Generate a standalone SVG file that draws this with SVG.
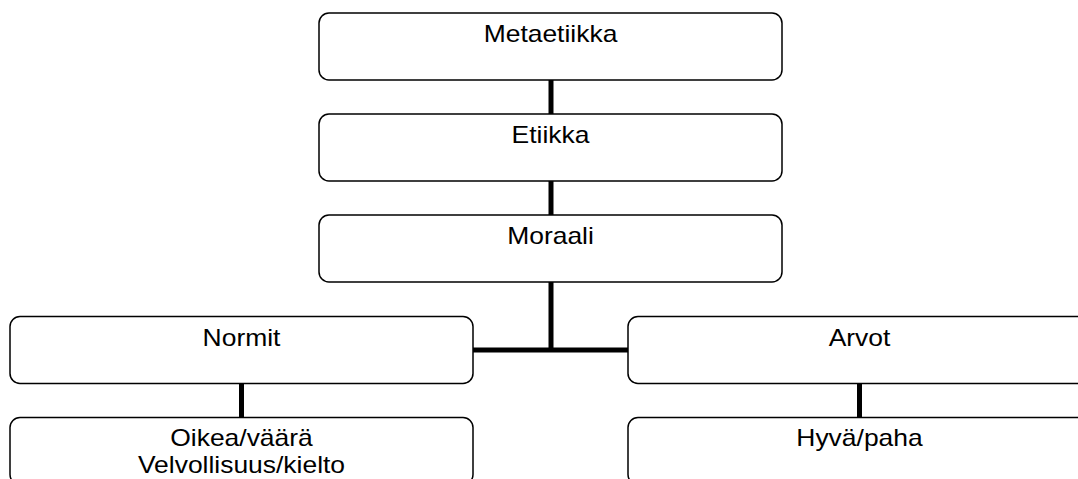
<svg xmlns="http://www.w3.org/2000/svg" width="1078" height="479" viewBox="0 0 1078 479">
<style>
.box{fill:#fff;stroke:#000;stroke-width:1.5}
.lbl{font-family:"Liberation Sans",Arial,sans-serif;font-size:23px;fill:#000;text-anchor:middle}
.con{stroke:#000;stroke-width:5;fill:none}
</style>
<rect width="1078" height="479" fill="#fff"/>
<g id="connectors">
<line class="con" x1="551" y1="80" x2="551" y2="114"/>
<line class="con" x1="551" y1="181" x2="551" y2="215"/>
<path class="con" d="M551 282 V350 M473 350 H628"/>
<line class="con" x1="241.5" y1="383" x2="241.5" y2="418"/>
<line class="con" x1="859.5" y1="383" x2="859.5" y2="418"/>
</g>
<g id="metaetiikka">
<rect class="box" x="319" y="13" width="463" height="67" rx="10"/>
<text class="lbl" transform="translate(550.5 42) scale(1.15 1)">Metaetiikka</text>
</g>
<g id="etiikka">
<rect class="box" x="319" y="114" width="463" height="67" rx="10"/>
<text class="lbl" transform="translate(550.5 143) scale(1.15 1)">Etiikka</text>
</g>
<g id="moraali">
<rect class="box" x="319" y="215" width="463" height="67" rx="10"/>
<text class="lbl" transform="translate(550.5 244) scale(1.15 1)">Moraali</text>
</g>
<g id="normit">
<rect class="box" x="10" y="316.5" width="463" height="67" rx="10"/>
<text class="lbl" transform="translate(241.5 345.5) scale(1.15 1)">Normit</text>
</g>
<g id="arvot">
<rect class="box" x="628" y="316.5" width="463" height="67" rx="10"/>
<text class="lbl" transform="translate(859.5 345.5) scale(1.15 1)">Arvot</text>
</g>
<g id="oikea">
<rect class="box" x="10" y="417.5" width="463" height="67" rx="10"/>
<text class="lbl" transform="translate(241.5 446) scale(1.15 1)">Oikea/väärä</text>
<text class="lbl" transform="translate(241.5 472.5) scale(1.15 1)">Velvollisuus/kielto</text>
</g>
<g id="hyva">
<rect class="box" x="628" y="417.5" width="463" height="67" rx="10"/>
<text class="lbl" transform="translate(859.5 446) scale(1.15 1)">Hyvä/paha</text>
</g>
</svg>
